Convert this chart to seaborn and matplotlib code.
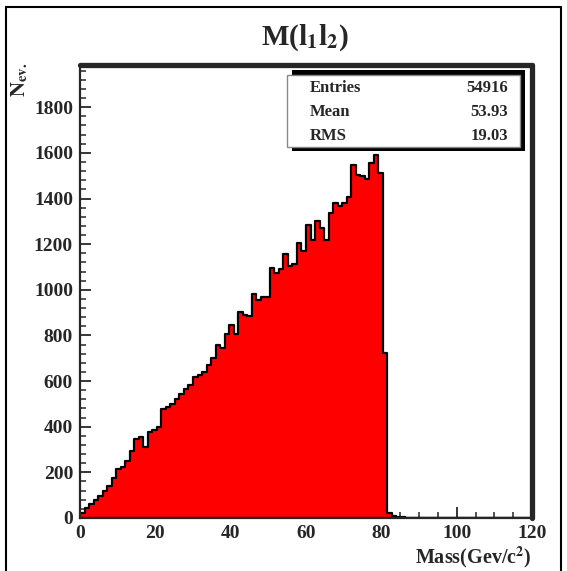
import numpy as np
import pandas as pd
import matplotlib
matplotlib.use("Agg")
import matplotlib.pyplot as plt
from matplotlib.patches import Rectangle
from matplotlib.ticker import MultipleLocator
import seaborn as sns

# ---- data ----
bin_edges = [round(1.2 * i, 6) for i in range(101)]   # 100 bins of 1.2 GeV
counts = [20, 42, 61, 79, 98, 120, 140, 174, 213, 222,
          251, 295, 348, 354, 313, 379, 385, 400, 478, 486,
          501, 523, 543, 566, 582, 620, 627, 640, 669, 702,
          759, 746, 807, 847, 808, 901, 890, 886, 983, 955,
          970, 970, 1095, 1073, 1091, 1158, 1103, 1112, 1207, 1168,
          1285, 1219, 1300, 1271, 1219, 1337, 1380, 1366, 1380, 1407,
          1548, 1504, 1500, 1486, 1556, 1592, 1512, 722, 20, 8,
          3, 3, 2, 1, 0, 0, 0, 0, 0, 0,
          0, 0, 0, 0, 0, 0, 0, 0, 0, 0,
          0, 0, 0, 0, 0, 0, 0, 0, 0, 0]
stat_names = ["Entries", "Mean", "RMS"]
stat_values = ["54916", "53.93", "19.03"]
x_ticks = [0, 20, 40, 60, 80, 100, 120]
y_ticks = [0, 200, 400, 600, 800, 1000, 1200, 1400, 1600, 1800]

centers = [0.5 * (bin_edges[i] + bin_edges[i + 1]) for i in range(len(counts))]
df = pd.DataFrame({"mass": centers, "n": counts})

sns.set_style("ticks")
plt.rcParams["font.family"] = ["Liberation Serif", "DejaVu Serif"]
plt.rcParams["font.weight"] = "normal"
plt.rcParams["mathtext.fontset"] = "stix"

W, H = 567, 571
fig = plt.figure(figsize=(W / 100, H / 100), dpi=100)
fig.patch.set_facecolor("white")

def fx(px):
    return px / W

def fy(py):
    return 1 - py / H

ax = fig.add_axes([fx(80), fy(518), fx(532) - fx(80), fy(65) - fy(518)])

sns.histplot(data=df, x="mass", weights="n", bins=bin_edges, element="step",
             fill=True, color="#ff0000", alpha=1.0, edgecolor="black",
             linewidth=1.6, ax=ax)

ax.set_xlim(0, 120)
ax.set_ylim(0, 1985)
ax.set_xticks(x_ticks)
ax.set_yticks(y_ticks)
ax.xaxis.set_minor_locator(MultipleLocator(5))
ax.yaxis.set_minor_locator(MultipleLocator(40))
ax.tick_params(which="major", direction="in", length=8, width=1.3,
               labelsize=14, top=False, right=False, pad=5)
ax.tick_params(which="minor", direction="in", length=4, width=1.1,
               top=False, right=False)
for lab in ax.get_xticklabels() + ax.get_yticklabels():
    lab.set_fontweight("bold")
ax.set_xlabel("")
ax.set_ylabel("")

for side in ["left", "bottom"]:
    ax.spines[side].set_linewidth(1.6)
for side in ["top", "right"]:
    ax.spines[side].set_linewidth(3.8)
    ax.spines[side].set_capstyle("round")

# title
fig.text(fx(305), fy(38), r"M(l$_\mathbf{1}$l$_\mathbf{2}$)", ha="center",
         va="center", fontsize=21, fontweight="bold")

# axis labels
fig.text(fx(20), fy(80), r"$\mathbf{N}_{\mathbf{ev.}}$", rotation=90,
         ha="center", va="center", fontsize=15)
fig.text(fx(532), fy(557), r"Mass(Gev/c$^{\mathbf{2}}$)", ha="right",
         va="center", fontsize=14.5, fontweight="bold")

# stats box with shadow
fig.patches.append(Rectangle((fx(292), fy(151)), fx(525) - fx(292),
                             fy(70) - fy(151), transform=fig.transFigure,
                             facecolor="black", edgecolor="none", zorder=5))
fig.patches.append(Rectangle((fx(287), fy(147)), fx(520) - fx(287),
                             fy(75) - fy(147), transform=fig.transFigure,
                             facecolor="white", edgecolor="#888888",
                             linewidth=1.0, zorder=6))
for i, (n, v) in enumerate(zip(stat_names, stat_values)):
    yy = fy(88 + 24 * i)
    fig.text(fx(310), yy, n, ha="left", va="center", fontsize=12,
             fontweight="bold", zorder=7)
    fig.text(fx(508), yy, v, ha="right", va="center", fontsize=12,
             fontweight="bold", zorder=7)

# canvas border
fig.patches.append(Rectangle((fx(6), -0.02), fx(561) - fx(6),
                             fy(7) + 0.02, transform=fig.transFigure,
                             facecolor="none", edgecolor="black",
                             linewidth=1.5, zorder=1))

fig.savefig("out.png", dpi=100)
